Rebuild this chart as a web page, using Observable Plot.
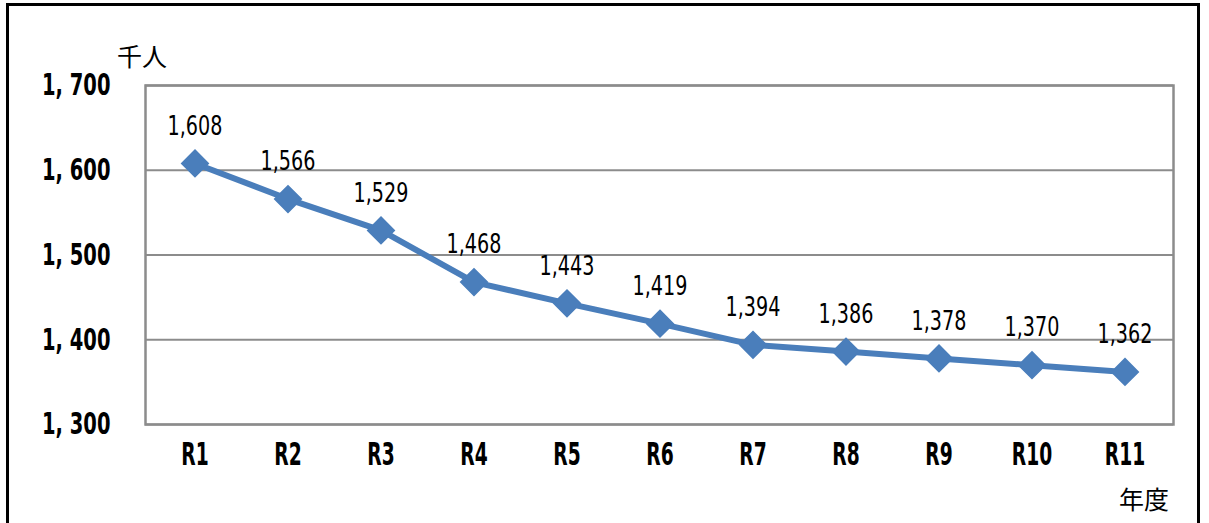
<!DOCTYPE html>
<html>
<head>
<meta charset="utf-8">
<script src="https://cdn.jsdelivr.net/npm/d3@7"></script>
<script src="https://cdn.jsdelivr.net/npm/@observablehq/plot@0.6"></script>
<style>
  html, body { margin: 0; padding: 0; background: #fff; }
  #wrap { position: relative; width: 1209px; height: 523px; overflow: hidden; }
  #frame { position: absolute; left: 6px; top: 3px; width: 1194px; height: 600px; border: 3px solid #000; box-sizing: border-box; }
  .unit { position: absolute; font-family: "Noto Sans CJK JP", sans-serif; font-size: 25px; color: #000; line-height: 1; }
  #chart svg text { font-stretch: condensed; }
</style>
</head>
<body>
<div id="wrap">
  <div id="frame"></div>
  <div id="chart"></div>
  <div class="unit" style="left:117px; top:43px;">千人</div>
  <div class="unit" style="left:1119px; top:486px;">年度</div>
</div>
<script>
const years = ["R1","R2","R3","R4","R5","R6","R7","R8","R9","R10","R11"];
const population = [1608,1566,1529,1468,1443,1419,1394,1386,1378,1370,1362];
const yTicks = [1300,1400,1500,1600,1700];

const data = years.map((y, i) => ({year: y, value: population[i]}));
const fmt = d3.format(",");
const font = "'DejaVu Sans Condensed', 'DejaVu Sans', sans-serif";

const chart = Plot.plot({
  width: 1209,
  height: 523,
  marginLeft: 145,
  marginRight: 36,
  marginTop: 85,
  marginBottom: 99,
  style: {fontFamily: font, fontStretch: "condensed", background: "transparent", overflow: "visible"},
  x: {type: "band", domain: years, padding: 0, label: null},
  y: {domain: [1300, 1700], label: null},
  marks: [
    Plot.gridY(yTicks, {stroke: "#8c8c8c", strokeOpacity: 1, strokeWidth: 2}),
    Plot.frame({stroke: "#8c8c8c", strokeWidth: 2.5}),
    Plot.axisY(yTicks, {tickSize: 0, tickPadding: 35, fontSize: 31, fontWeight: "bold", tickFormat: d => fmt(d).replace(",", ", "), label: null}),
    Plot.axisX({tickSize: 0, tickPadding: 18, fontSize: 32, fontWeight: "bold", label: null}),
    Plot.lineY(data, {x: "year", y: "value", stroke: "#4a7ebb", strokeWidth: 6}),
    Plot.dot(data, {x: "year", y: "value", symbol: "diamond2", r: 12, fill: "#4a7ebb", stroke: "#4a7ebb"}),
    Plot.text(data, {x: "year", y: "value", text: d => fmt(d.value), dy: -37, fontSize: 26, fill: "#000"})
  ]
});

function squeeze(selector, s) {
  chart.querySelectorAll(selector).forEach(t => {
    const tr = t.getAttribute("transform") || "";
    t.setAttribute("transform", `${tr} scale(${s},1)`);
  });
}
squeeze('g[aria-label="y-axis tick label"] text', 0.7);
squeeze('g[aria-label="x-axis tick label"] text', 0.65);
squeeze('g[aria-label="text"] text', 0.82);

document.getElementById("chart").appendChild(chart);
</script>
</body>
</html>
